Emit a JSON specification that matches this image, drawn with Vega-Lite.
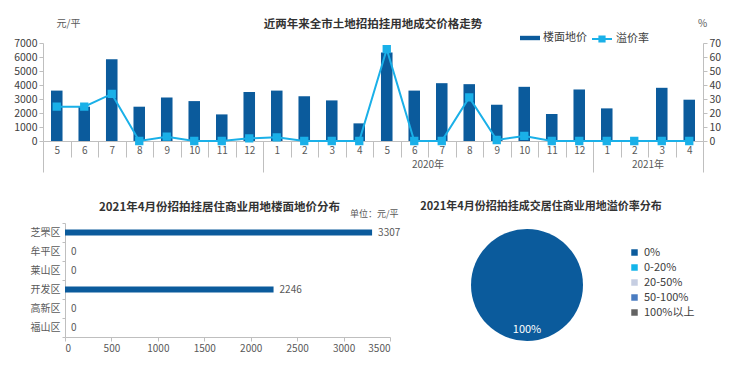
{
  "$schema": "https://vega.github.io/schema/vega-lite/v6.json",
  "background": "white",
  "padding": {"left": 0, "top": 18, "right": 0, "bottom": 0},
  "config": {
    "font": "Noto Sans CJK SC",
    "view": {"stroke": null},
    "axis": {"labelFont": "Noto Sans CJK SC", "labelColor": "#595959", "labelFontSize": 10, "domainColor": "#BFBFBF", "tickColor": "#BFBFBF", "grid": false, "titleFont": "Noto Sans CJK SC", "titleFontWeight": "normal", "titleColor": "#595959", "titleFontSize": 10},
    "legend": {"labelFont": "Noto Sans CJK SC", "labelFontSize": 11, "labelColor": "#404040"},
    "title": {"font": "Noto Sans CJK SC", "fontSize": 11.5, "fontWeight": "bold", "color": "#333333"}
  },
  "datasets": {
    "trend": [
      {"ym": "2019-05", "price": 3600, "rate": 24.5},
      {"ym": "2019-06", "price": 2450, "rate": 24.5},
      {"ym": "2019-07", "price": 5840, "rate": 33.6},
      {"ym": "2019-08", "price": 2450, "rate": 0},
      {"ym": "2019-09", "price": 3100, "rate": 3.1},
      {"ym": "2019-10", "price": 2850, "rate": 0},
      {"ym": "2019-11", "price": 1900, "rate": 0},
      {"ym": "2019-12", "price": 3500, "rate": 1.9},
      {"ym": "2020-01", "price": 3600, "rate": 2.6},
      {"ym": "2020-02", "price": 3200, "rate": 0},
      {"ym": "2020-03", "price": 2900, "rate": 0},
      {"ym": "2020-04", "price": 1260, "rate": 0},
      {"ym": "2020-05", "price": 6320, "rate": 65.6},
      {"ym": "2020-06", "price": 3600, "rate": 0},
      {"ym": "2020-07", "price": 4130, "rate": 0},
      {"ym": "2020-08", "price": 4060, "rate": 31.1},
      {"ym": "2020-09", "price": 2590, "rate": 0.7},
      {"ym": "2020-10", "price": 3870, "rate": 3.6},
      {"ym": "2020-11", "price": 1920, "rate": 0},
      {"ym": "2020-12", "price": 3680, "rate": 0},
      {"ym": "2021-01", "price": 2330, "rate": 0},
      {"ym": "2021-02", "price": 0, "rate": 0},
      {"ym": "2021-03", "price": 3800, "rate": 0},
      {"ym": "2021-04", "price": 2950, "rate": 0}
    ],
    "years": [{"year": "2020年", "mid": "2020-07"}, {"year": "2021年", "mid": "2021-03"}],
    "district": [
      {"district": "芝罘区", "price": 3307},
      {"district": "牟平区", "price": 0},
      {"district": "莱山区", "price": 0},
      {"district": "开发区", "price": 2246},
      {"district": "高新区", "price": 0},
      {"district": "福山区", "price": 0}
    ],
    "premium": [
      {"range": "0%", "share": 1},
      {"range": "0-20%", "share": 0},
      {"range": "20-50%", "share": 0},
      {"range": "50-100%", "share": 0},
      {"range": "100%以上", "share": 0}
    ]
  },
  "vconcat": [
    {
      "width": 660,
      "height": 98,
      "title": {"text": "近两年来全市土地招拍挂用地成交价格走势", "anchor": "middle", "offset": -12},
      "layer": [
        {
          "data": {"name": "trend"},
          "mark": {"type": "bar", "width": {"band": 0.42}},
          "encoding": {
            "x": {"field": "ym", "type": "ordinal", "sort": "ascending",
              "scale": {"paddingInner": 0, "paddingOuter": 0},
              "axis": {"title": null, "labelExpr": "toNumber(split(datum.value, '-')[1])", "labelAngle": 0, "tickBand": "extent",
                "tickSize": {"condition": {"test": "datum.extra || datum.value == '2019-12' || datum.value == '2020-12' || datum.value == '2021-04'", "value": 31}, "value": 16},
                "labelPadding": {"condition": {"test": "datum.extra || datum.value == '2019-12' || datum.value == '2020-12' || datum.value == '2021-04'", "value": -27}, "value": -12}}},
            "y": {"field": "price", "type": "quantitative", "scale": {"domain": [0, 7000]},
              "axis": {"values": [0, 1000, 2000, 3000, 4000, 5000, 6000, 7000], "format": "d", "title": "元/平", "titleAngle": 0, "titleAlign": "center", "titleBaseline": "middle", "titleX": 25, "titleY": -20, "labelFontSize": 10.5, "labelColor": "#404040", "tickSize": 4, "minExtent": 43}},
            "fill": {"datum": "楼面地价", "scale": {"range": ["#0B5B9C"]},
              "legend": {"title": null, "orient": "none", "legendX": 477, "legendY": -15, "symbolType": "M-1,-0.22H1V0.22H-1Z", "symbolSize": 400, "symbolStrokeWidth": 0, "labelOffset": 3}}
          }
        },
        {
          "data": {"name": "trend"},
          "mark": {"type": "line", "strokeWidth": 2, "color": "#1AB0E8", "point": {"shape": "square", "size": 40, "filled": true, "color": "#1AB0E8"}},
          "encoding": {
            "x": {"field": "ym", "type": "ordinal", "sort": "ascending"},
            "y": {"field": "rate", "type": "quantitative", "scale": {"domain": [0, 70]},
              "axis": {"orient": "right", "values": [0, 10, 20, 30, 40, 50, 60, 70], "title": "%", "titleAngle": 0, "titleAlign": "center", "titleBaseline": "middle", "titleX": -1, "titleY": -20, "labelFontSize": 10.5, "labelColor": "#404040", "tickSize": 4}},
            "stroke": {"datum": "溢价率", "scale": {"range": ["#1AB0E8"]},
              "legend": {"title": null, "orient": "none", "legendX": 548, "legendY": -15, "symbolType": "M-1,0H1M-0.26,-0.26H0.26V0.26H-0.26Z", "symbolSize": 400, "symbolStrokeWidth": 2, "labelOffset": 3,
                "encode": {"symbols": {"update": {"fill": {"value": "#1AB0E8"}}}}}}
          }
        },
        {
          "data": {"name": "years"},
          "mark": {"type": "text", "fontSize": 10, "color": "#595959", "y": "height", "dy": 24},
          "encoding": {
            "x": {"field": "mid", "type": "ordinal", "sort": "ascending", "bandPosition": 0},
            "text": {"field": "year"}
          }
        }
      ],
      "resolve": {"scale": {"y": "independent"}}
    },
    {
      "hconcat": [
        {
          "width": 347,
          "height": 114,
          "title": {"text": "2021年4月份招拍挂居住商业用地楼面地价分布", "anchor": "middle", "offset": -4, "dx": 3},
          "data": {"name": "district"},
          "layer": [
            {
              "mark": {"type": "bar", "height": 6, "color": "#0B5B9C"},
              "encoding": {
                "y": {"field": "district", "type": "nominal", "sort": null,
                  "scale": {"paddingInner": 0, "paddingOuter": 0},
                  "axis": {"title": "单位：元/平", "offset": -22, "titleAngle": 0, "titleAlign": "right", "titleBaseline": "middle", "titleX": 333, "titleY": -10, "titleFontSize": 9, "tickBand": "extent", "tickSize": 3}},
                "x": {"field": "price", "type": "quantitative", "scale": {"domain": [0, 3500], "range": [22, 347]},
                  "axis": {"title": null, "values": [0, 500, 1000, 1500, 2000, 2500, 3000, 3500], "format": "d", "tickSize": 4}}
              }
            },
            {
              "mark": {"type": "text", "align": "left", "baseline": "middle", "dx": 6, "fontSize": 10, "color": "#595959"},
              "encoding": {
                "y": {"field": "district", "type": "nominal", "sort": null},
                "x": {"field": "price", "type": "quantitative"},
                "text": {"field": "price", "type": "quantitative", "format": "d"}
              }
            }
          ]
        },
        {
          "width": 112,
          "height": 124,
          "title": {"text": "2021年4月份招拍挂成交居住商业用地溢价率分布", "anchor": "middle", "offset": 11, "dx": 14, "fontSize": 11},
          "data": {"name": "premium"},
          "layer": [
            {
              "mark": {"type": "arc", "outerRadius": 56},
              "encoding": {
                "theta": {"field": "share", "type": "quantitative", "stack": true},
                "color": {"field": "range", "type": "nominal", "sort": null,
                  "scale": {"domain": ["0%", "0-20%", "20-50%", "50-100%", "100%以上"], "range": ["#0B5B9C", "#13B5EA", "#C6CEE2", "#4A7CC1", "#636363"]},
                  "legend": {"title": null, "orient": "none", "legendX": 158, "legendY": 24, "symbolType": "square", "symbolSize": 42, "rowPadding": 3, "labelOffset": 4}}
              }
            },
            {
              "transform": [{"filter": "datum.share > 0"}],
              "mark": {"type": "text", "radius": 45, "color": "white", "fontSize": 11},
              "encoding": {
                "theta": {"field": "share", "type": "quantitative", "stack": true},
                "text": {"field": "share", "type": "quantitative", "format": ".0%"}
              }
            }
          ]
        }
      ],
      "resolve": {"legend": {"color": "independent"}, "scale": {"color": "independent"}},
      "spacing": 19
    }
  ],
  "resolve": {"scale": {"color": "independent", "fill": "independent", "stroke": "independent"}, "legend": {"color": "independent", "fill": "independent", "stroke": "independent"}},
  "spacing": 28
}
